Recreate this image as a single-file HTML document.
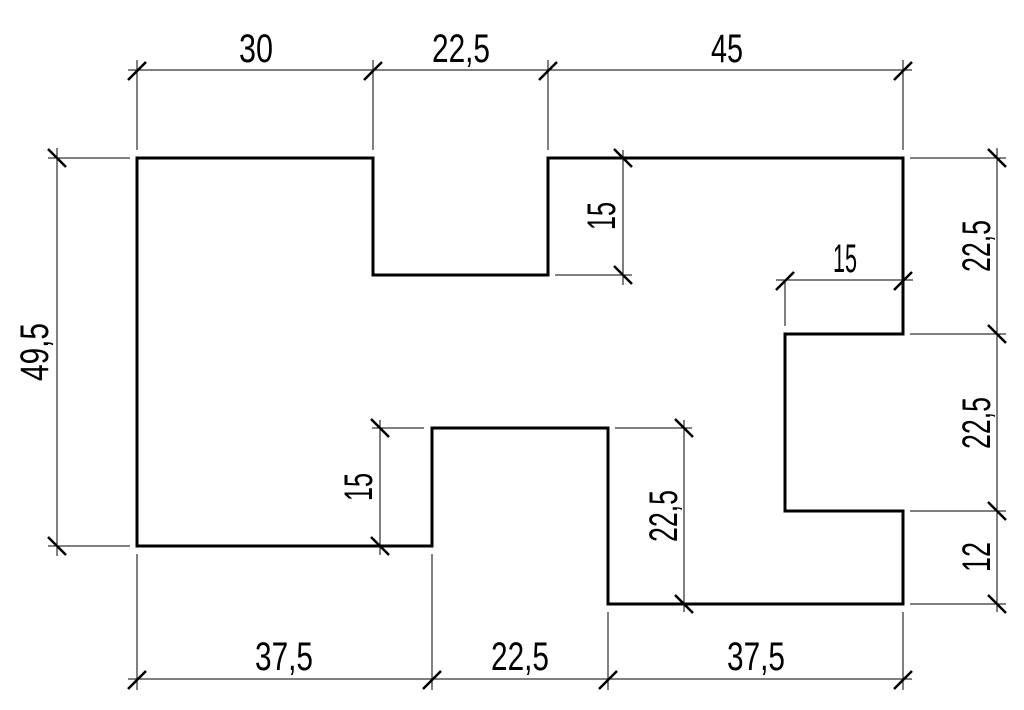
<!DOCTYPE html>
<html><head><meta charset="utf-8"><style>
html,body{margin:0;padding:0;background:#fff;width:1024px;height:710px;overflow:hidden}
text{font-family:"Liberation Sans Narrow","Liberation Sans",sans-serif;font-size:40px;fill:#000}
</style></head><body>
<svg width="1024" height="710" viewBox="0 0 1024 710" xmlns="http://www.w3.org/2000/svg">
<g stroke="#000" stroke-width="1" fill="none">
<line x1="128" y1="70" x2="912" y2="70"/>
<line x1="137" y1="60" x2="137" y2="150"/><line x1="373" y1="60" x2="373" y2="150"/>
<line x1="548" y1="60" x2="548" y2="150"/><line x1="903" y1="60" x2="903" y2="150"/>
<line x1="128" y1="679" x2="912" y2="679"/>
<line x1="137" y1="554" x2="137" y2="690"/><line x1="432" y1="554" x2="432" y2="690"/>
<line x1="608" y1="612" x2="608" y2="690"/><line x1="903" y1="612" x2="903" y2="690"/>
<line x1="57" y1="148" x2="57" y2="556"/>
<line x1="48" y1="158" x2="130" y2="158"/><line x1="48" y1="546" x2="130" y2="546"/>
<line x1="997" y1="148" x2="997" y2="612"/>
<line x1="910" y1="158" x2="1006" y2="158"/><line x1="910" y1="334" x2="1006" y2="334"/>
<line x1="910" y1="511" x2="1006" y2="511"/><line x1="910" y1="604" x2="1006" y2="604"/>
<line x1="623" y1="150" x2="623" y2="285"/><line x1="555" y1="275" x2="632" y2="275"/>
<line x1="776" y1="280" x2="913" y2="280"/><line x1="785" y1="280" x2="785" y2="326"/>
<line x1="380" y1="420" x2="380" y2="555"/><line x1="372" y1="428" x2="424" y2="428"/>
<line x1="684" y1="420" x2="684" y2="612"/><line x1="615" y1="428" x2="692" y2="428"/>
</g>
<g stroke="#000" stroke-width="2.5">
<path d="M128 80L146 62M364 80L382 62M539 80L557 62M894 80L912 62
M128 689L146 671M423 689L441 671M599 689L617 671M894 689L912 671
M776 290L794 272M894 290L912 272"/>
<path d="M48 149L66 167M48 537L66 555
M988 149L1006 167M988 325L1006 343M988 502L1006 520M988 595L1006 613
M614 149L632 167M614 266L632 284
M371 419L389 437M371 537L389 555
M675 419L693 437M675 595L693 613"/>
</g>
<path d="M137 158H373V275H548V158H903V334H785V511H903V604H608V428H432V546H137Z" fill="none" stroke="#000" stroke-width="3"/>
<text x="256" y="62" text-anchor="middle" textLength="34" lengthAdjust="spacingAndGlyphs">30</text>
<text x="461" y="62" text-anchor="middle" textLength="58" lengthAdjust="spacingAndGlyphs">22,5</text>
<text x="727" y="62" text-anchor="middle" textLength="32" lengthAdjust="spacingAndGlyphs">45</text>
<text x="284" y="670" text-anchor="middle" textLength="58" lengthAdjust="spacingAndGlyphs">37,5</text>
<text x="520" y="670" text-anchor="middle" textLength="58" lengthAdjust="spacingAndGlyphs">22,5</text>
<text x="756" y="670" text-anchor="middle" textLength="58" lengthAdjust="spacingAndGlyphs">37,5</text>
<text x="845" y="272" text-anchor="middle" textLength="24" lengthAdjust="spacingAndGlyphs">15</text>
<text transform="translate(48,352) rotate(-90)" text-anchor="middle" textLength="58" lengthAdjust="spacingAndGlyphs">49,5</text>
<text transform="translate(615,216) rotate(-90)" text-anchor="middle" textLength="28" lengthAdjust="spacingAndGlyphs">15</text>
<text transform="translate(372,487) rotate(-90)" text-anchor="middle" textLength="28" lengthAdjust="spacingAndGlyphs">15</text>
<text transform="translate(677,516) rotate(-90)" text-anchor="middle" textLength="52" lengthAdjust="spacingAndGlyphs">22,5</text>
<text transform="translate(990,246) rotate(-90)" text-anchor="middle" textLength="52" lengthAdjust="spacingAndGlyphs">22,5</text>
<text transform="translate(990,423) rotate(-90)" text-anchor="middle" textLength="52" lengthAdjust="spacingAndGlyphs">22,5</text>
<text transform="translate(990,557) rotate(-90)" text-anchor="middle" textLength="30" lengthAdjust="spacingAndGlyphs">12</text>
</svg>
</body></html>
